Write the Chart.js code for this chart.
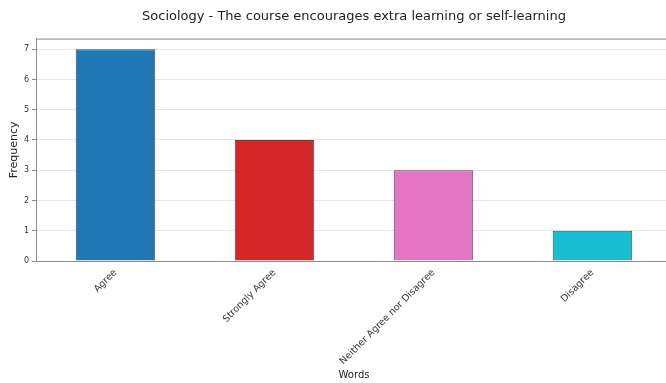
<!DOCTYPE html>
<html><head><meta charset="utf-8">
<script src="https://cdn.jsdelivr.net/npm/chart.js@4"></script>
<style>html,body{margin:0;padding:0;background:#fff;overflow:hidden;width:666px;height:383px}
#wrap{width:672px;height:383px;position:relative}</style>
</head><body><div id="wrap"><canvas id="c" width="672" height="383"></canvas></div>
<script>
const categories = ['Agree', 'Strongly Agree', 'Neither Agree nor Disagree', 'Disagree'];
const frequencies = [7, 4, 3, 1];
const barColors = ['#1f77b4', '#d62728', '#e377c2', '#17becf'];
const yTicks = [0, 1, 2, 3, 4, 5, 6, 7];
const titleText = 'Sociology - The course encourages extra learning or self-learning';

const frame = {
  id: 'frame',
  afterDraw(chart) {
    const {ctx, chartArea: a} = chart;
    ctx.save();
    ctx.strokeStyle = '#8c8c8c';
    ctx.lineWidth = 1;
    ctx.beginPath();
    ctx.moveTo(a.left, a.top + 0.5); ctx.lineTo(a.right, a.top + 0.5);
    ctx.stroke();
    ctx.restore();
  }
};

new Chart(document.getElementById('c'), {
  type: 'bar',
  data: {
    labels: categories,
    datasets: [{
      data: frequencies,
      backgroundColor: barColors,
      borderColor: 'rgba(30,30,30,0.8)',
      borderWidth: 1,
      barPercentage: 0.5,
      categoryPercentage: 1.0
    }]
  },
  options: {
    responsive: false,
    animation: false,
    layout: {padding: {left: 8, right: 0, top: 0, bottom: 0}},
    plugins: {
      legend: {display: false},
      tooltip: {enabled: false},
      title: {
        display: true, text: titleText, color: '#222', fullSize: false,
        font: {family: 'DejaVu Sans', size: 13, weight: 'normal'},
        padding: {top: 9, bottom: 14}
      }
    },
    scales: {
      x: {
        grid: {display: false, drawTicks: true, tickLength: 4, color: '#888'},
        border: {display: true, color: '#8c8c8c', width: 1},
        ticks: {minRotation: 45, maxRotation: 45, autoSkip: false, color: '#333', padding: 2,
          font: {family: 'DejaVu Sans', size: 9.5}},
        title: {display: true, text: 'Words', color: '#222', padding: {top: 0, bottom: 2},
          font: {family: 'DejaVu Sans', size: 10}},
        afterFit(s) { s.height = 122; }
      },
      y: {
        min: 0, max: 7.35,
        grid: {color: 'rgba(200,200,200,0.45)', tickLength: 4, tickColor: '#888'},
        border: {display: true, color: '#8c8c8c', width: 1},
        ticks: {stepSize: 1, color: '#333', padding: 3, font: {family: 'DejaVu Sans', size: 8}},
        afterBuildTicks(s) { s.ticks = yTicks.map(v => ({value: v})); },
        title: {display: true, text: 'Frequency', color: '#222', padding: {top: 0, bottom: 2},
          font: {family: 'DejaVu Sans', size: 11}},
        afterFit(s) { s.width = 28; }
      }
    }
  },
  plugins: [frame]
});
</script></body></html>
